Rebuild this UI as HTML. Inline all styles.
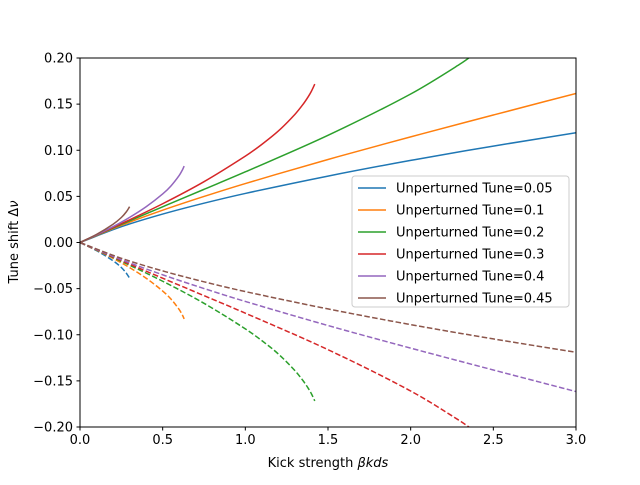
<!DOCTYPE html>
<html><head><meta charset="utf-8"><style>
body{margin:0;background:#fff}
svg text{font-family:"DejaVu Sans","Liberation Sans",sans-serif;font-size:13px;fill:#000}
</style></head><body>
<svg id="chart" width="640" height="480" xmlns="http://www.w3.org/2000/svg">
<defs><clipPath id="plotclip"><rect x="80" y="58" width="496" height="369"/></clipPath></defs>
<rect width="640" height="480" fill="#fff"/>
<g id="series" clip-path="url(#plotclip)"></g>
<rect x="80" y="58" width="496" height="369" fill="none" stroke="#000" stroke-width="1"/>
<g id="axes"></g>
<text x="328" y="467" text-anchor="middle">Kick strength <tspan font-style="italic">βkds</tspan></text>
<text transform="translate(18,242) rotate(-90)" text-anchor="middle">Tune shift Δ<tspan font-style="italic">ν</tspan></text>
<g id="legend"></g>
</svg>
<script>
const xTicks=[0,0.5,1,1.5,2,2.5,3];
const xTickLabels=["0.0","0.5","1.0","1.5","2.0","2.5","3.0"];
const yTicks=[-0.2,-0.15,-0.1,-0.05,0,0.05,0.1,0.15,0.2];
const yTickLabels=["−0.20","−0.15","−0.10","−0.05","0.00","0.05","0.10","0.15","0.20"];
const seriesNames=["Unperturned Tune=0.05","Unperturned Tune=0.1","Unperturned Tune=0.2","Unperturned Tune=0.3","Unperturned Tune=0.4","Unperturned Tune=0.45"];
const colors=["#1f77b4","#ff7f0e","#2ca02c","#d62728","#9467bd","#8c564b"];
// solid (positive) branches
const xs05=[0,0.25,0.5,0.75,1,1.5,2,2.5,3];
const ys05=[0,0.0171,0.0308,0.0426,0.0532,0.0720,0.0890,0.1045,0.1190];
const xs10=[0,0.25,0.5,0.75,1,1.5,2,2.5,3];
const ys10=[0,0.0186,0.0350,0.0499,0.0639,0.0900,0.1145,0.1382,0.1616];
const xs20=[0,0.25,0.5,0.75,1,1.5,2,2.3,2.4,2.5];
const ys20=[0,0.0196,0.0387,0.0576,0.0766,0.1162,0.1610,0.1936,0.2065,0.2211];
const xs30=[0,0.25,0.5,0.75,1,1.1,1.2,1.3,1.35,1.38,1.4,1.42];
const ys30=[0,0.0204,0.0420,0.0659,0.0936,0.1064,0.1209,0.1389,0.1500,0.1579,0.1641,0.1717];
const xs40=[0,0.1,0.2,0.3,0.4,0.5,0.55,0.6,0.62,0.63];
const ys40=[0,0.0083,0.0172,0.0272,0.0387,0.0526,0.0613,0.0727,0.0789,0.0828];
const xs45=[0,0.1,0.2,0.25,0.28,0.3];
const ys45=[0,0.0088,0.0198,0.0271,0.0332,0.0388];
// dashed (negative) branches
const xd05=[0,0.1,0.2,0.25,0.28,0.3];
const yd05=[0,-0.0088,-0.0198,-0.0271,-0.0332,-0.0388];
const xd10=[0,0.1,0.2,0.3,0.4,0.5,0.55,0.6,0.62,0.63];
const yd10=[0,-0.0083,-0.0172,-0.0272,-0.0387,-0.0526,-0.0613,-0.0727,-0.0789,-0.0828];
const xd20=[0,0.25,0.5,0.75,1,1.1,1.2,1.3,1.35,1.38,1.4,1.42];
const yd20=[0,-0.0204,-0.0420,-0.0659,-0.0936,-0.1064,-0.1209,-0.1389,-0.1500,-0.1579,-0.1641,-0.1717];
const xd30=[0,0.25,0.5,0.75,1,1.5,2,2.3,2.4,2.5];
const yd30=[0,-0.0196,-0.0387,-0.0576,-0.0766,-0.1162,-0.1610,-0.1936,-0.2065,-0.2211];
const xd40=[0,0.25,0.5,0.75,1,1.5,2,2.5,3];
const yd40=[0,-0.0186,-0.0350,-0.0499,-0.0639,-0.0900,-0.1145,-0.1382,-0.1616];
const xd45=[0,0.25,0.5,0.75,1,1.5,2,2.5,3];
const yd45=[0,-0.0171,-0.0308,-0.0426,-0.0532,-0.0720,-0.0890,-0.1045,-0.1190];

const solidX=[xs05,xs10,xs20,xs30,xs40,xs45], solidY=[ys05,ys10,ys20,ys30,ys40,ys45];
const dashX=[xd05,xd10,xd20,xd30,xd40,xd45], dashY=[yd05,yd10,yd20,yd30,yd40,yd45];

const NS="http://www.w3.org/2000/svg";
const X0=80,X1=576,Y0=427,Y1=58;
const sx=v=>X0+(v-0)/(3-0)*(X1-X0);
const sy=v=>Y0-(v+0.2)/0.4*(Y0-Y1);
function mk(t,a,p){const e=document.createElementNS(NS,t);for(const k in a)e.setAttribute(k,a[k]);p.appendChild(e);return e;}
function pathD(xa,ya){
  const P=xa.map((x,i)=>[sx(x),sy(ya[i])]);
  let d="M"+P[0][0]+","+P[0][1];
  for(let i=0;i<P.length-1;i++){
    const p0=P[Math.max(i-1,0)],p1=P[i],p2=P[i+1],p3=P[Math.min(i+2,P.length-1)];
    const h=Math.hypot(p2[0]-p1[0],p2[1]-p1[1]);
    const h0=Math.hypot(p2[0]-p0[0],p2[1]-p0[1])||1;
    const h1=Math.hypot(p3[0]-p1[0],p3[1]-p1[1])||1;
    const c1=[p1[0]+(p2[0]-p0[0])*h/(3*h0),p1[1]+(p2[1]-p0[1])*h/(3*h0)];
    const c2=[p2[0]-(p3[0]-p1[0])*h/(3*h1),p2[1]-(p3[1]-p1[1])*h/(3*h1)];
    d+=" C"+c1+" "+c2+" "+p2;
  }
  return d;
}
const sg=document.getElementById("series");
for(let i=0;i<6;i++){
  const s=mk("path",{d:pathD(solidX[i],solidY[i]),fill:"none",stroke:colors[i],"stroke-width":1.5},sg);
  
  
  const d=mk("path",{d:pathD(dashX[i],dashY[i]),fill:"none",stroke:colors[i],"stroke-width":1.5,"stroke-dasharray":"5.55,2.4"},sg);
  
  
}
const ax=document.getElementById("axes");
xTicks.forEach((v,i)=>{
  const t=mk("line",{x1:sx(v),x2:sx(v),y1:Y0,y2:Y0+3.5,stroke:"#000"},ax);
  
  
  const l=mk("text",{x:sx(v),y:Y0+17,"text-anchor":"middle"},ax);l.textContent=xTickLabels[i];
  
  
});
yTicks.forEach((v,i)=>{
  const t=mk("line",{x1:X0-3.5,x2:X0,y1:sy(v),y2:sy(v),stroke:"#000"},ax);
  
  
  const l=mk("text",{x:X0-7,y:sy(v)+4.5,"text-anchor":"end"},ax);l.textContent=yTickLabels[i];
  
  
});
const lg=document.getElementById("legend");
mk("rect",{x:352,y:176,width:217,height:131,rx:3,fill:"#fff","fill-opacity":0.8,stroke:"#ccc"},lg);
seriesNames.forEach((n,i)=>{
  const y=188+i*22;
  const e=mk("g",{},lg);
  
  
  mk("line",{x1:358,x2:386,y1:y,y2:y,stroke:colors[i],"stroke-width":1.5},e);
  const t=mk("text",{x:396,y:y+4.5},e);t.textContent=n;
});
</script>
</body></html>
